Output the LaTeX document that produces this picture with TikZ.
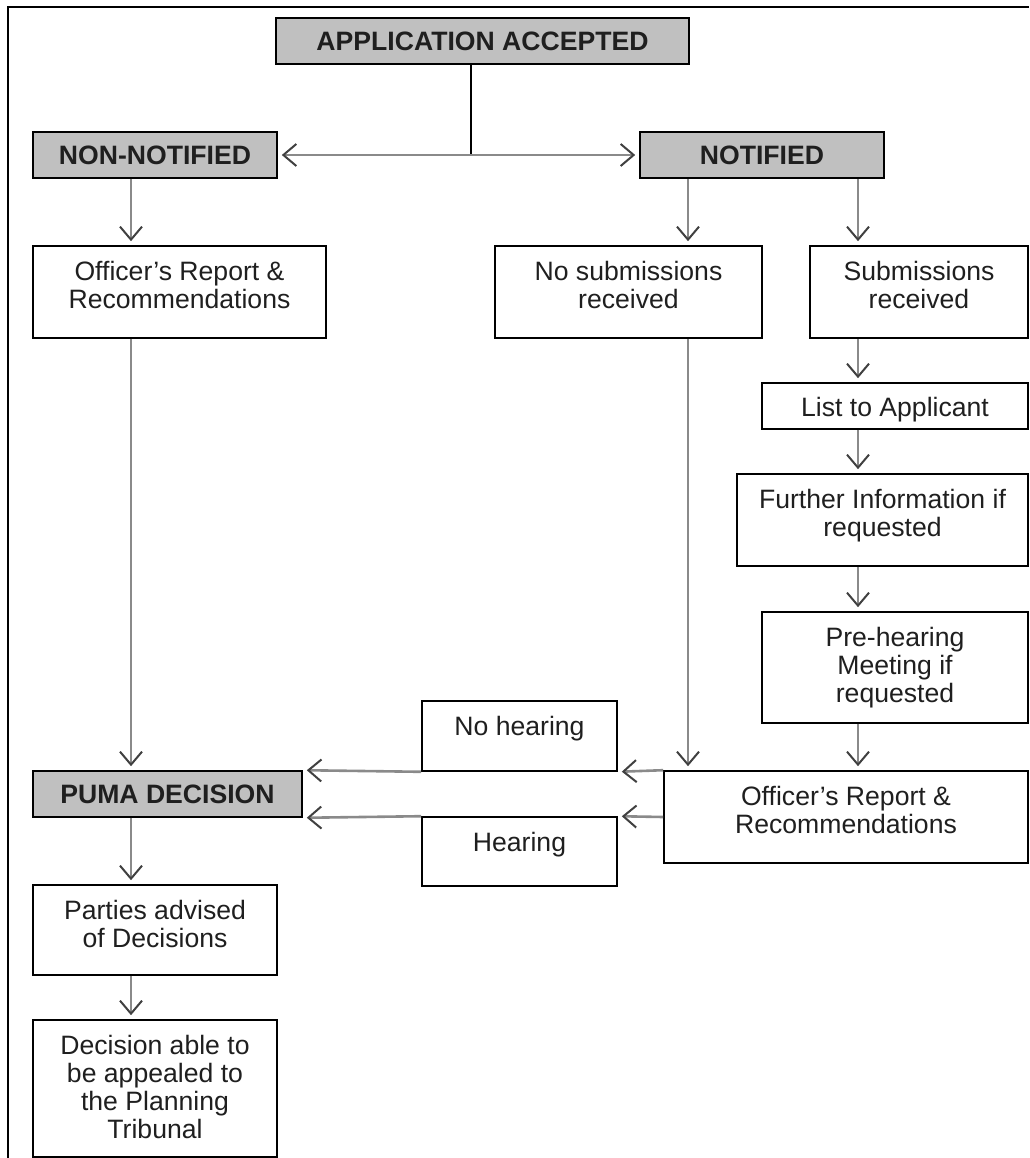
\documentclass[tikz,border=0pt]{standalone}
\usepackage{fontspec}
\setmainfont{Liberation Sans}
\usepackage{xcolor}
\usetikzlibrary{arrows.meta}
\definecolor{pgray}{HTML}{c0c0c0}
\definecolor{plinegray}{HTML}{8a8a8a}
\definecolor{ptext}{HTML}{1f1f1f}

\tikzset{
	pbox/.style={draw=black, line width=1.6pt, inner sep=0pt, text=ptext},
	phead/.style={pbox, fill=pgray, font=\fontsize{26.6}{28}\selectfont\bfseries},
	ptxt/.style={anchor=north, yshift=-16pt, align=center, inner sep=0pt, text=ptext},
	parrow/.style={color=plinegray, line width=2.6pt, shorten >=4pt,
		-{Straight Barb[length=13pt, width=22pt, line width=2pt, color=black!75]}}
}

\begin{document}
\begin{tikzpicture}[x=1pt, y=-1pt, font=\fontsize{26.6}{28}\selectfont]
		\useasboundingbox (0,0) rectangle (1029,1158);
		\draw[color=black, line width=2pt] (8,1158) -- (8,7) -- (1029,7);

		% heads
		\node[phead, minimum width=413pt, minimum height=46pt] (app) at (482.5,41) {APPLICATION ACCEPTED};
		\node[phead, minimum width=244pt, minimum height=46pt] (nonnot) at (155,155) {NON-NOTIFIED};
		\node[phead, minimum width=244pt, minimum height=46pt] (notif) at (762,155) {NOTIFIED};
		\node[phead, minimum width=269pt, minimum height=46pt] (puma) at (167.5,794) {PUMA DECISION};

		% plain boxes
		\node[pbox, minimum width=293pt, minimum height=92pt, label={[ptxt]north:Officer’s Report \&\\Recommendations}] (offL) at (179.5,292) {};
		\node[pbox, minimum width=267pt, minimum height=92pt, label={[ptxt]north:No submissions\\received}] (nosub) at (628.5,292) {};
		\node[pbox, minimum width=218pt, minimum height=92pt, label={[ptxt]north:Submissions\\received}] (sub) at (919,292) {};
		\node[pbox, minimum width=266pt, minimum height=46pt, label={[ptxt, yshift=1pt]north:List to Applicant}] (list) at (895,406) {};
		\node[pbox, minimum width=291pt, minimum height=92pt, label={[ptxt]north:Further Information if\\requested}] (further) at (882.5,520) {};
		\node[pbox, minimum width=266pt, minimum height=111pt, label={[ptxt]north:Pre-hearing\\Meeting if\\requested}] (prehear) at (895,667.5) {};
		\node[pbox, minimum width=364pt, minimum height=92pt, label={[ptxt]north:Officer’s Report \&\\Recommendations}] (offR) at (846,817) {};
		\node[pbox, minimum width=195pt, minimum height=70pt, label={[ptxt]north:No hearing}] (nohear) at (519.5,736) {};
		\node[pbox, minimum width=195pt, minimum height=69pt, label={[ptxt]north:Hearing}] (hear) at (519.5,851.5) {};
		\node[pbox, minimum width=244pt, minimum height=90pt, label={[ptxt]north:Parties advised\\of Decisions}] (parties) at (155,930) {};
		\node[pbox, minimum width=244pt, minimum height=137pt, label={[ptxt]north:Decision able to\\be appealed to\\the Planning\\Tribunal}] (decision) at (155,1088.5) {};

		% arrow columns
		\coordinate (colL) at (131,0);
		\coordinate (colS) at (471,0);
		\coordinate (colM) at (688,0);
		\coordinate (colR) at (858,0);
		\coordinate (split) at (colS |- nonnot.east);

		\draw[color=black, line width=1.8pt] (app.south -| colS) -- (split);
		\draw[parrow] (split) -- (nonnot.east);
		\draw[parrow] (split) -- (notif.west);

		\draw[parrow] (nonnot.south -| colL) -- (offL.north -| colL);
		\draw[parrow] (offL.south -| colL) -- (puma.north -| colL);
		\draw[parrow] (puma.south -| colL) -- (parties.north -| colL);
		\draw[parrow] (parties.south -| colL) -- (decision.north -| colL);

		\draw[parrow] (notif.south -| colM) -- (nosub.north -| colM);
		\draw[parrow] (nosub.south -| colM) -- (offR.north -| colM);

		\draw[parrow] (notif.south -| colR) -- (sub.north -| colR);
		\draw[parrow] (sub.south -| colR) -- (list.north -| colR);
		\draw[parrow] (list.south -| colR) -- (further.north -| colR);
		\draw[parrow] (further.south -| colR) -- (prehear.north -| colR);
		\draw[parrow] (prehear.south -| colR) -- (offR.north -| colR);

		\draw[parrow] (offR.north west) -- (nohear.south east);
		\draw[parrow] (nohear.south west) -- (puma.north east);
		\draw[parrow] (offR.west) -- (hear.north east);
		\draw[parrow] (hear.north west) -- (puma.south east);
	\end{tikzpicture}
\end{document}
